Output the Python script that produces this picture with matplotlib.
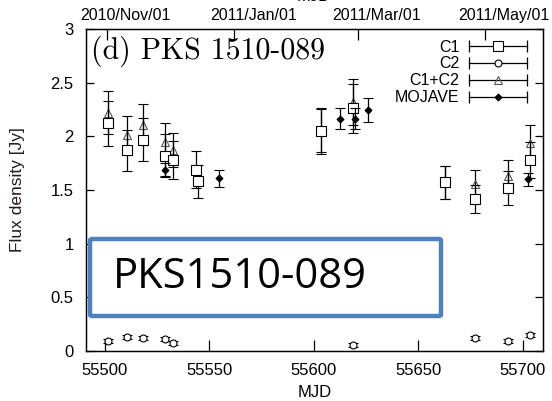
import numpy as np
import matplotlib
matplotlib.use("Agg")
import matplotlib.pyplot as plt
import matplotlib.transforms as mtrans
from matplotlib.lines import Line2D
from matplotlib.patches import FancyBboxPatch
from matplotlib.legend_handler import HandlerLine2D, HandlerTuple

# ------------------------------------------------------------------
# data (MJD, flux density in Jy)
# ------------------------------------------------------------------
mjd_c1   = [55501.5, 55510.5, 55518.5, 55529.0, 55532.5, 55543.5, 55544.5,
            55603.5, 55618.5, 55662.5, 55677.0, 55693.0, 55703.5]
flux_c1  = [2.12, 1.87, 1.97, 1.82, 1.78, 1.69, 1.58,
            2.05, 2.26, 1.57, 1.42, 1.52, 1.78]
err_c1   = [0.21, 0.19, 0.20, 0.20, 0.18, 0.17, 0.15,
            0.21, 0.23, 0.15, 0.13, 0.16, 0.17]

mjd_c2   = [55501.5, 55510.5, 55518.5, 55529.0, 55532.5,
            55618.5, 55677.0, 55693.0, 55703.5]
flux_c2  = [0.096, 0.133, 0.124, 0.112, 0.077,
            0.056, 0.124, 0.096, 0.149]
err_c2   = [0.02, 0.02, 0.02, 0.02, 0.02,
            0.015, 0.02, 0.02, 0.02]

mjd_sum  = [55501.5, 55510.5, 55518.5, 55529.0, 55532.5,
            55603.5, 55618.5, 55662.5, 55677.0, 55693.0, 55703.5]
flux_sum = [2.22, 2.01, 2.11, 1.95, 1.87,
            2.05, 2.32, 1.57, 1.56, 1.63, 1.94]
err_sum  = [0.20, 0.18, 0.19, 0.17, 0.16,
            0.20, 0.21, 0.15, 0.13, 0.15, 0.17]

mjd_moj  = [55529.0, 55554.5, 55612.5, 55619.5, 55626.0, 55702.5]
flux_moj = [1.69, 1.61, 2.165, 2.165, 2.245, 1.60]
err_moj  = [0.06, 0.08, 0.10, 0.10, 0.11, 0.06]

# top axis: calendar dates and their MJD
date_mjd    = [55501, 55562, 55621, 55682]
date_labels = ["2010/Nov/01", "2011/Jan/01", "2011/Mar/01", "2011/May/01"]

plt.rcParams['font.family'] = ['Liberation Sans', 'DejaVu Sans']
plt.rcParams['font.size'] = 11

fig = plt.figure(figsize=(5.52, 4.01), dpi=100)
ax = fig.add_axes([0.1558, 0.1247, 0.8279, 0.803])

ebkw = dict(ls='none', ecolor='black', elinewidth=0.9, capsize=3.3, capthick=0.9)
ax.errorbar(mjd_c1, flux_c1, yerr=err_c1, marker='s', ms=7, mfc='white',
            mec='black', mew=0.8, zorder=3, **ebkw)
ax.errorbar(mjd_c2, flux_c2, yerr=err_c2, marker='o', ms=5, mfc='white',
            mec='black', mew=0.8, zorder=3, **ebkw)
ax.errorbar(mjd_sum, flux_sum, yerr=err_sum, marker='^', ms=5.5, mfc='none',
            mec='#555555', mew=0.8, zorder=2, **ebkw)
ax.errorbar(mjd_moj, flux_moj, yerr=err_moj, marker='D', ms=3.5, mfc='black',
            mec='black', mew=0.8, zorder=4, **ebkw)

ax.set_xlim(55491, 55709.6)
ax.set_ylim(0, 3)
ax.set_xticks([55500, 55550, 55600, 55650, 55700])
ax.set_yticks([0, 0.5, 1, 1.5, 2, 2.5, 3])
ax.set_yticklabels(["0", "0.5", "1", "1.5", "2", "2.5", "3"])
ax.tick_params(axis='x', direction='in', length=8, width=0.9, top=False,
               pad=9, labelsize=12)
ax.tick_params(axis='y', direction='in', length=6, width=0.9, right=True,
               pad=9, labelsize=12)
ax.set_xlabel("MJD", labelpad=5, fontsize=12)
ax.set_ylabel("Flux density [Jy]", labelpad=18, fontsize=12.5, color='#2a1a1a')
for sp in ax.spines.values():
    sp.set_linewidth(1.0)

# top axis with dates (gnuplot places these labels right of the tick)
top = ax.twiny()
top.set_xlim(ax.get_xlim())
top.set_xticks(date_mjd)
top.set_xticklabels(date_labels)
top.tick_params(axis='x', direction='in', length=8, width=0.9, pad=4,
                labelsize=11.5)
shift = mtrans.ScaledTranslation(0.19, 0, fig.dpi_scale_trans)
for lab in top.get_xticklabels():
    lab.set_transform(lab.get_transform() + shift)
fig.text(314 / 552, 1.008, "MJD", ha='center', va='center', fontsize=12)

# panel title
ax.text(0.012, 0.93, "(d) PKS 1510-089", transform=ax.transAxes,
        family='cmr10', fontsize=21.5, ha='left', va='center')

# legend, gnuplot style (text on the left, line with end caps)
caps = Line2D([], [], color='black', lw=0.9, marker='|', ms=8, mew=0.9)
mk = dict(ls='none', mew=0.8)
handles = [
    (caps, Line2D([], [], marker='s', ms=6.5, mfc='white', mec='black', **mk)),
    (caps, Line2D([], [], marker='o', ms=5, mfc='white', mec='black', **mk)),
    (caps, Line2D([], [], marker='^', ms=5.5, mfc='none', mec='#555555', **mk)),
    (caps, Line2D([], [], marker='D', ms=3.5, mfc='black', mec='black', **mk)),
]
labels = ["C1", "C2", "C1+C2", "MOJAVE"]
ax.legend(handles, labels, loc='upper right', bbox_to_anchor=(0.985, 0.997),
          frameon=False, markerfirst=False, handlelength=3.6, handletextpad=0.6,
          labelspacing=0.12, borderaxespad=0.2, fontsize=11.5,
          handler_map={caps: HandlerLine2D(numpoints=2, marker_pad=0),
                       tuple: HandlerTuple(ndivide=1, pad=0)})

# annotation box drawn over the chart
box = FancyBboxPatch((90 / 552, 1 - 316 / 401), 351 / 552, 77 / 401,
                     boxstyle="round,pad=0,rounding_size=0.004",
                     transform=fig.transFigure, facecolor='white',
                     edgecolor='#4F81BD', linewidth=3.2, zorder=10)
fig.add_artist(box)
fig.text(113 / 552, 1 - 277 / 401, "PKS1510-089", ha='left', va='center',
         family=['Open Sans', 'DejaVu Sans'], fontsize=30, zorder=11)

fig.savefig("out.png", dpi=100)
